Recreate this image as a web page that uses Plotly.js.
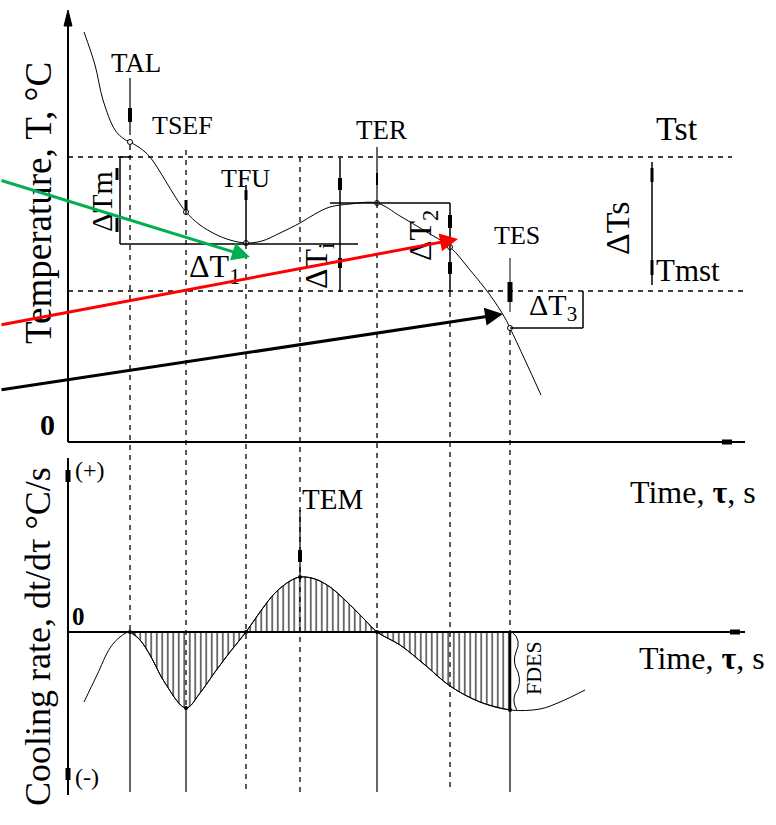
<!DOCTYPE html>
<html><head><meta charset="utf-8">
<script src="https://cdn.plot.ly/plotly-3.0.1.min.js"></script>
<style>body{margin:0;background:#fff}#c{width:776px;height:825px}</style>
</head><body><div id="c"></div>
<script>
// Temperature curve (diagram units: x = time, y = schematic level, screen-like scale)
const tempX = [84, 95, 103, 115, 124, 130, 140, 150, 165, 176, 186, 200, 215, 230, 246, 262, 280, 300, 315, 330, 350, 377, 400, 425, 450, 470, 490, 505, 510, 525, 541];
const tempY = [32, 65, 100, 130, 139, 142, 148, 157, 180, 198, 212, 225, 234, 240, 243, 241, 233, 223, 214, 207, 204, 203, 216, 231, 247, 270, 295, 318, 328, 360, 395];
// Cooling-rate curve
const coolX = [84, 97, 110, 120, 130, 140, 150, 165, 186, 200, 215, 230, 246, 260, 275, 290, 300, 315, 330, 345, 365, 377, 400, 425, 450, 480, 510, 540, 560, 585];
const coolY = [702, 675, 648, 637, 632, 640, 655, 683, 708, 693, 672, 652, 632, 612, 593, 581, 577, 579, 587, 600, 620, 632, 645, 665, 686, 702, 710, 709, 702, 690];
const hatchStart = 130, hatchEnd = 510;
const zeroLevel = 632;
// Event markers
const eventNames = ["TAL", "TSEF", "TFU", "TEM", "TER", "", "TES"];
const eventX = [130, 186, 246, 300, 377, 450, 510];
const tempLevels = {Tst: 157, Tmst: 291};

const F = "Liberation Serif, Times New Roman, serif";
const DASH = "5px,5px";
const traces = [];
traces.push({x: tempX, y: tempY, mode: "lines", line: {color: "#000", width: 1, shape: "spline"}, hoverinfo: "skip"});
// hatch region
const hx = [], hy = [];
coolX.forEach((x, i) => { if (x >= hatchStart && x <= hatchEnd) { hx.push(x); hy.push(coolY[i]); } });
traces.push({x: [hx[0], hx[hx.length-1]], y: [zeroLevel, zeroLevel], mode: "lines", line: {color: "#000", width: 1.5}, hoverinfo: "skip"});
traces.push({x: hx, y: hy, mode: "lines", fill: "tonexty", fillcolor: "rgba(0,0,0,0)",
  fillpattern: {shape: "|", size: 5.5, solidity: 0.2, fgcolor: "#000", bgcolor: "rgba(0,0,0,0)"},
  line: {color: "#000", width: 1, shape: "spline"}, hoverinfo: "skip"});
traces.push({x: coolX, y: coolY, mode: "lines", line: {color: "#000", width: 1, shape: "spline"}, hoverinfo: "skip"});
// small point markers
traces.push({x: [130, 186, 246, 377, 450, 510], y: [142, 212, 243, 203, 247, 328], mode: "markers",
  marker: {size: 5, color: "#fff", line: {color: "#000", width: 1}}, hoverinfo: "skip"});
traces.push({x: [130, 186, 246, 300, 377, 510], y: [632, 708, 632, 577, 632, 710], mode: "markers",
  marker: {size: 4, color: "#000"}, hoverinfo: "skip"});

const shapes = [];
function L(x0, y0, x1, y1, w, dash, color) {
  shapes.push({type: "line", xref: "x", yref: "y", x0, y0, x1, y1, line: {color: color || "#000", width: w || 1, dash: dash || "solid"}});
}
// axes
L(68, 14, 68, 442, 2); L(68, 442, 745, 442, 2); L(722, 442, 732, 442, 5);
shapes.push({type: "path", xref: "x", yref: "y", path: "M 64 26 L 68 10 L 72 26 Z", fillcolor: "#000", line: {color: "#000", width: 1}});
L(68, 458, 68, 795, 2); L(68, 632, 745, 632, 2); L(730, 632, 740, 632, 5);
L(68, 470, 68, 482, 5); L(68, 768, 68, 780, 5);
// horizontal dotted
L(68, tempLevels.Tst, 732, tempLevels.Tst, 1.3, DASH);
L(68, tempLevels.Tmst, 748, tempLevels.Tmst, 1.3, DASH);
// vertical dashed / solid event lines
L(130, 145, 130, 632, 1.3, DASH); L(130, 632, 130, 792, 1.2);
L(186, 150, 186, 708, 1.3, DASH); L(186, 708, 186, 792, 1.2);
L(246, 185, 246, 244, 1.5); L(246, 244, 246, 792, 1.3, DASH);
L(300, 157, 300, 792, 1.3, DASH);
L(377, 147, 377, 203, 1.2); L(377, 203, 377, 632, 1.3, DASH); L(377, 632, 377, 792, 1.2);
L(450, 203, 450, 292, 1.5); L(450, 292, 450, 792, 1.3, DASH);
L(510, 330, 510, 632, 1.3, DASH); L(510, 632, 510, 710, 2.5); L(510, 710, 510, 792, 1.2);
// TAL arrow
L(130, 78, 130, 135, 1.2); L(130, 108, 130, 122, 4);
// TSEF mark
L(186, 200, 186, 210, 3);
// ΔTm bracket
L(120, 157, 131, 157, 1.5); L(120, 157, 120, 244, 1.5); L(120, 244, 358, 244, 1.5);
L(117, 168, 117, 180, 3); L(117, 218, 117, 232, 3);
// TFU marks
L(246, 190, 246, 200, 3);
// ΔTi line
L(340, 158, 340, 292, 1.5); L(340, 178, 340, 190, 4); L(340, 258, 340, 268, 4);
// TER
L(377, 173, 377, 185, 2); L(330, 203, 450, 203, 1.5);
// ΔT2 marks
L(450, 215, 450, 228, 4); L(450, 262, 450, 274, 4);
// TES arrow
L(510, 258, 510, 312, 1); L(510, 282, 510, 302, 5);
// ΔT3 bracket
L(510, 328, 583, 328, 1.5); L(583, 291, 583, 328, 1.5);
// ΔTs line
L(652, 162, 652, 285, 1.5); L(652, 168, 652, 182, 3); L(652, 260, 652, 275, 3);
// TEM arrow
L(300, 510, 300, 575, 1.2); L(300, 550, 300, 562, 4);
// FDES wavy bracket
shapes.push({type: "path", xref: "x", yref: "y", path: "M 512 632 Q 522 640 516 652 Q 512 662 518 672 Q 522 684 515 694 Q 512 702 517 710", line: {color: "#000", width: 1}});

const annotations = [];
function T(text, x, y, size, opts) {
  annotations.push(Object.assign({xref: "x", yref: "y", x, y, text, showarrow: false, font: {family: F, size, color: "#000"}}, opts || {}));
}
function A(x0, y0, x1, y1, color) {
  annotations.push({xref: "x", yref: "y", axref: "x", ayref: "y", x: x1, y: y1, ax: x0, ay: y0, text: "", showarrow: true,
    arrowhead: 2, arrowsize: 1.2, arrowwidth: 3, arrowcolor: color});
}
T(eventNames[0], 136, 63, 27);
T(eventNames[1], 182, 125, 26);
T(eventNames[2], 245, 178, 26);
T(eventNames[4], 381, 130, 27);
T(eventNames[6], 517, 235, 26);
T(eventNames[3], 332, 499, 29);
T("Tst", 677, 128, 34);
T("Tmst", 688, 270, 31);
T("ΔTs", 617, 228, 34, {textangle: -90});
T("ΔTm", 101, 202, 30, {textangle: -90});
T("ΔT<sub>1</sub>", 214, 268, 32);
T("ΔT<sub>i</sub>", 318, 266, 32, {textangle: -90});
T("ΔT<sub>2</sub>", 422, 236, 32, {textangle: -90});
T("ΔT<sub>3</sub>", 553, 307, 30);
T("FDES", 533, 668, 22, {textangle: -90});
T("Time, <b>τ</b>, s", 693, 492, 32);
T("Time, <b>τ</b>, s", 702, 658, 32);
T("<b>0</b>", 47, 424, 30);
T("<b>0</b>", 78, 616, 25);
T("(+)", 90, 470, 24);
T("(-)", 87, 777, 24);
T("Temperature, T, °C", 38, 203, 37, {textangle: -90});
T("Cooling rate, dt/dτ °C/s", 38, 637, 36, {textangle: -90});
A(0, 180, 250, 257, "#00b050");
A(0, 325, 458, 239, "#ff0000");
A(0, 390, 503, 314, "#000000");

const layout = {
  width: 776, height: 825, margin: {l: 0, r: 0, t: 0, b: 0},
  paper_bgcolor: "#fff", plot_bgcolor: "#fff", showlegend: false,
  xaxis: {range: [0, 776], visible: false, fixedrange: true},
  yaxis: {range: [825, 0], visible: false, fixedrange: true},
  shapes, annotations
};
Plotly.newPlot("c", traces, layout, {staticPlot: true});
</script></body></html>
